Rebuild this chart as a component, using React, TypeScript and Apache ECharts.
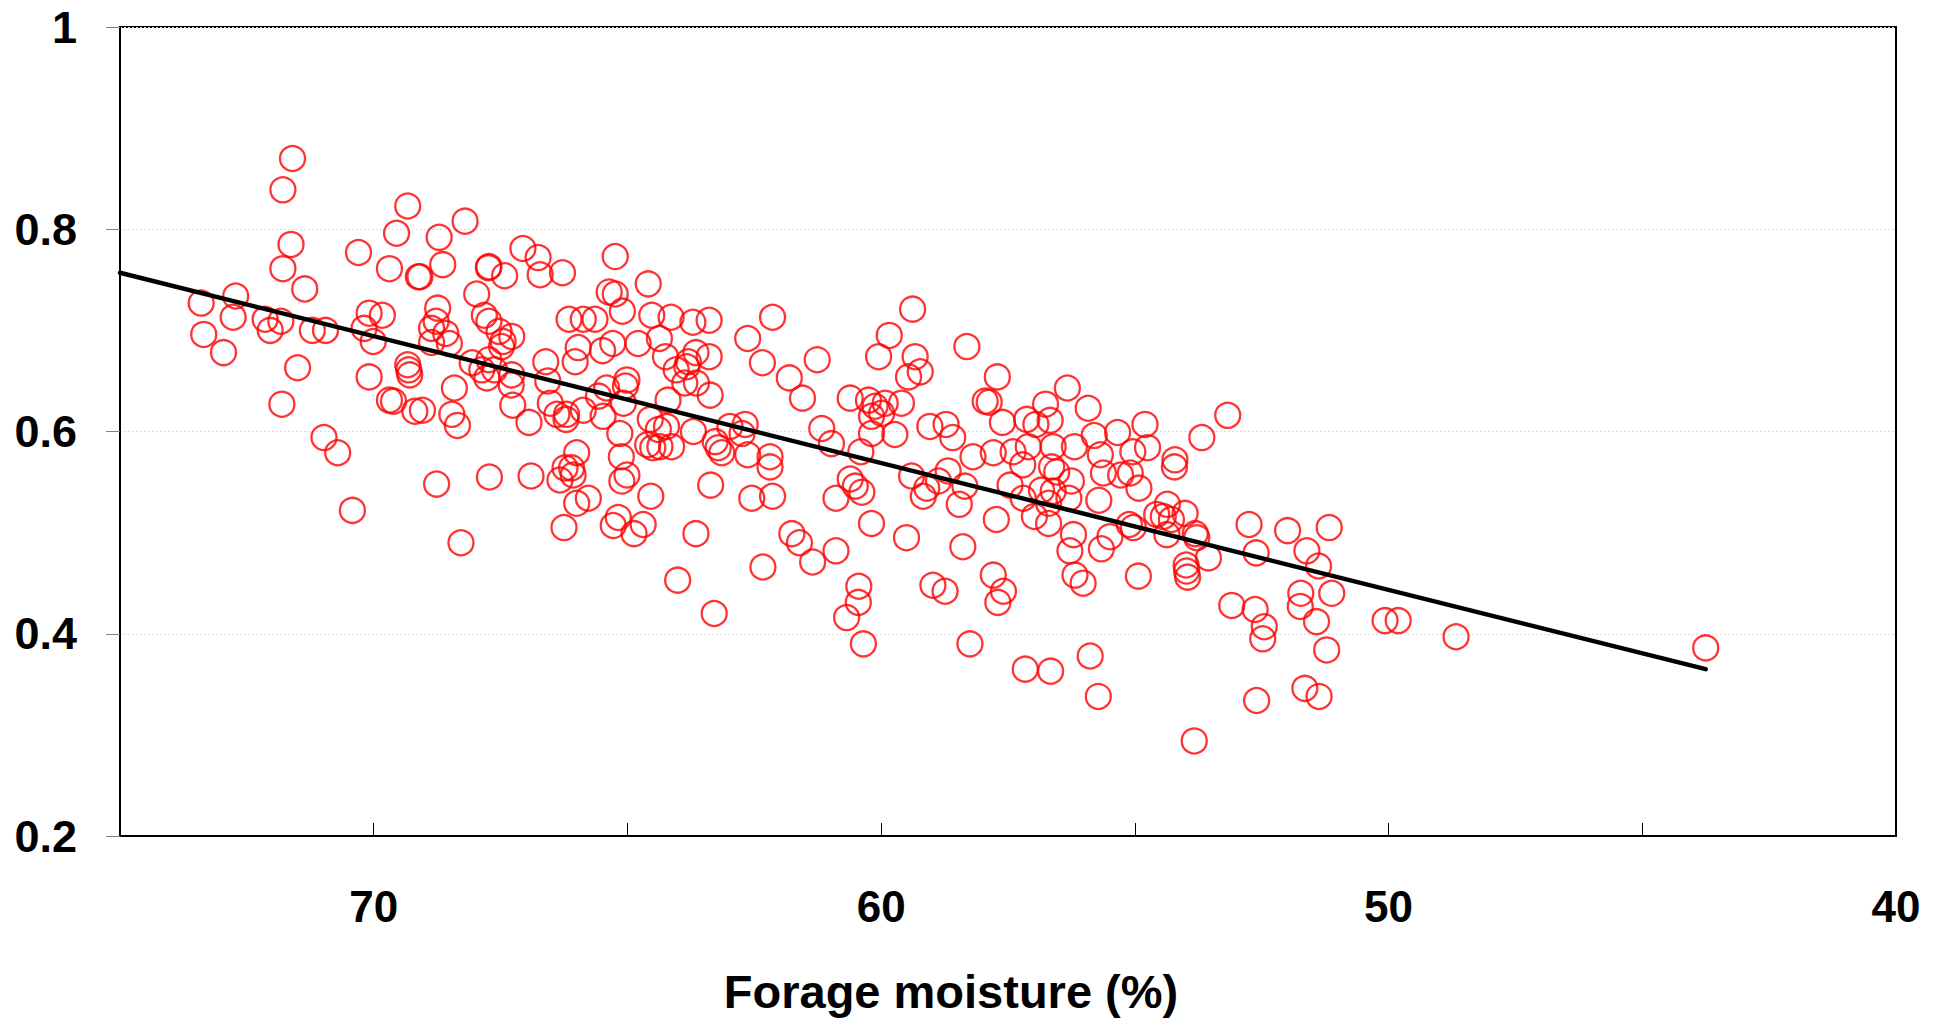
import React, { useEffect, useRef } from "react";
import * as echarts from "echarts";

// Forage moisture (%) of each sample
const moisture: number[] = [
  71.60, 71.79, 69.33, 68.20, 69.55, 68.71, 71.63, 67.06, 70.30, 66.76,
  71.79, 69.69, 69.09, 69.12, 68.64, 67.73, 67.74, 67.42, 66.72, 66.28,
  71.36, 67.97, 72.72, 73.40, 72.77, 72.14, 71.83, 72.04, 73.35, 72.96,
  71.21, 70.95, 70.09, 69.83, 70.19, 70.01, 68.74, 68.77, 68.86, 68.58,
  68.86, 68.51, 67.82, 67.73, 67.53, 67.28, 67.45, 67.48, 66.15, 65.87,
  65.97, 66.03, 66.61, 66.57, 69.33, 69.31, 69.29, 68.06, 67.73, 67.87,
  67.62, 67.77, 67.28, 67.29, 70.09, 71.50, 68.41, 71.81, 69.61, 69.69,
  69.19, 69.04, 68.46, 68.35, 67.26, 66.94, 66.52, 66.39, 66.20, 65.87,
  66.21, 70.98, 70.71, 66.00,
  70.42, 68.76, 67.72, 68.28, 66.90, 66.33, 66.23, 66.10, 66.07, 66.00, 66.25,
  65.24, 65.36, 65.24, 64.59, 65.10, 65.64, 64.52, 64.14, 63.71, 63.39,
  62.14, 62.63, 59.38, 59.84, 58.31, 60.05, 59.33, 59.23, 59.46, 61.26,
  62.34, 61.81, 61.55, 60.61, 64.37, 64.79, 65.29, 65.49, 64.25, 63.65,
  63.39, 63.80, 63.83, 64.04, 63.64, 63.87, 65.01, 65.04, 65.41, 65.57,
  65.48, 64.20, 63.37, 65.08, 64.55, 64.23, 65.15, 64.39, 63.70, 63.27,
  62.98, 62.68, 62.74, 61.17, 60.98, 60.40, 60.25, 60.12, 59.92, 59.60,
  60.19, 59.99, 60.19, 59.73, 59.04, 58.72, 58.59, 58.19, 64.60, 64.50,
  64.36, 64.13, 65.12, 63.21, 62.19,
  57.71, 57.95, 57.87, 57.61, 56.76, 56.33, 55.92, 57.13, 56.95, 56.67,
  55.80, 55.34, 54.80, 54.75, 55.04, 53.17, 53.68, 57.79, 57.40, 57.10,
  56.61, 56.19, 55.68, 54.21,
  65.77, 65.01, 65.11, 64.54, 65.18, 65.28, 64.69, 64.87, 63.14, 62.63,
  62.19, 63.36, 62.55, 62.14, 63.65, 64.01, 63.29, 62.33, 61.76, 61.61,
  61.35, 60.89, 60.89, 60.61, 60.51, 60.38, 60.19, 60.44, 60.45, 60.68,
  60.35, 59.50, 59.40, 59.17, 59.10, 58.87, 58.68, 58.35, 58.46, 58.39,
  58.98, 58.74, 58.25,
  57.21, 56.64, 56.54, 56.25, 55.62, 55.28, 55.09, 54.92, 54.22, 57.46,
  57.20, 56.84, 56.61, 56.30, 56.70, 56.98, 56.70, 57.73, 55.71, 56.21,
  56.28, 55.66, 55.49, 55.11, 55.03, 54.57, 54.36, 54.44, 54.28, 54.01,
  54.37, 53.81, 53.78, 53.55, 53.99, 53.98, 53.96, 54.93, 56.18, 56.02,
  57.79, 57.59, 57.70, 57.16, 56.66, 55.88, 55.72, 53.83, 52.75, 51.99,
  51.17, 52.61, 51.61, 51.38, 53.09, 52.63, 52.45, 52.48, 51.73, 51.74,
  51.42, 51.12, 51.22, 52.60, 51.65, 51.37,
  50.07, 49.81, 48.67, 43.75,
];

// Measured response of each sample (same order)
const response: number[] = [
  0.870, 0.839, 0.823, 0.808, 0.796, 0.792, 0.785, 0.781, 0.777, 0.772,
  0.761, 0.761, 0.753, 0.753, 0.765, 0.763, 0.762, 0.754, 0.755, 0.757,
  0.741, 0.736, 0.734, 0.727, 0.713, 0.711, 0.709, 0.700, 0.696, 0.678,
  0.700, 0.700, 0.717, 0.715, 0.702, 0.689, 0.722, 0.709, 0.702, 0.697,
  0.688, 0.687, 0.715, 0.709, 0.699, 0.694, 0.689, 0.684, 0.711, 0.711,
  0.683, 0.669, 0.669, 0.650, 0.666, 0.661, 0.656, 0.668, 0.671, 0.661,
  0.661, 0.653, 0.656, 0.646, 0.654, 0.663, 0.643, 0.627, 0.630, 0.631,
  0.620, 0.621, 0.617, 0.606, 0.626, 0.609, 0.628, 0.617, 0.617, 0.621,
  0.612, 0.594, 0.579, 0.579,
  0.522, 0.548, 0.555, 0.490, 0.556, 0.552, 0.564, 0.564, 0.557, 0.529, 0.505,
  0.773, 0.738, 0.736, 0.746, 0.719, 0.711, 0.715, 0.713, 0.708, 0.710,
  0.713, 0.692, 0.721, 0.695, 0.684, 0.674, 0.674, 0.659, 0.654, 0.671,
  0.668, 0.653, 0.633, 0.633, 0.692, 0.687, 0.687, 0.680, 0.674, 0.678,
  0.674, 0.669, 0.664, 0.661, 0.648, 0.648, 0.651, 0.645, 0.643, 0.635,
  0.615, 0.631, 0.636, 0.628, 0.612, 0.605, 0.598, 0.602, 0.600, 0.590,
  0.605, 0.607, 0.598, 0.603, 0.588, 0.580, 0.631, 0.625, 0.628, 0.628,
  0.615, 0.618, 0.598, 0.597, 0.605, 0.607, 0.594, 0.575, 0.587, 0.584,
  0.585, 0.585, 0.575, 0.584, 0.575,
  0.654, 0.630, 0.629, 0.609, 0.627, 0.643, 0.623, 0.612, 0.607, 0.611,
  0.596, 0.599, 0.607, 0.584, 0.580, 0.616, 0.594, 0.579, 0.580, 0.585,
  0.585, 0.585, 0.577, 0.572,
  0.534, 0.557, 0.551, 0.536, 0.515, 0.507, 0.508, 0.499, 0.579, 0.577,
  0.565, 0.547, 0.534, 0.536, 0.499, 0.453, 0.420, 0.466, 0.499, 0.490,
  0.471, 0.482, 0.534, 0.553, 0.546, 0.540, 0.509, 0.447, 0.431, 0.416,
  0.390, 0.495, 0.556, 0.536, 0.544, 0.551, 0.561, 0.546, 0.528, 0.486,
  0.448, 0.442, 0.390,
  0.567, 0.565, 0.560, 0.551, 0.559, 0.557, 0.559, 0.544, 0.565, 0.547,
  0.534, 0.542, 0.541, 0.534, 0.529, 0.516, 0.509, 0.513, 0.532, 0.498,
  0.482, 0.484, 0.496, 0.508, 0.505, 0.518, 0.528, 0.516, 0.513, 0.519,
  0.498, 0.499, 0.495, 0.475, 0.468, 0.462, 0.456, 0.457, 0.458, 0.450,
  0.458, 0.442, 0.431, 0.365, 0.363, 0.378, 0.338, 0.294, 0.508, 0.502,
  0.505, 0.480, 0.482, 0.467, 0.428, 0.424, 0.407, 0.395, 0.440, 0.427,
  0.412, 0.440, 0.384, 0.334, 0.346, 0.338,
  0.413, 0.413, 0.397, 0.386,
];

// Fitted regression line end points
const trendMoisture: number[] = [75, 43.75];
const trendResponse: number[] = [0.757, 0.365];

// Axis settings
const xMin = 40;
const xMax = 75;
const xStep = 5;
const xLabelStep = 10;
const yMin = 0.2;
const yMax = 1;
const yStep = 0.2;
const xTitle = "Forage moisture (%)";

const FONT = "'Liberation Sans', Arial, Helvetica, sans-serif";

export default function App() {
  const ref = useRef<HTMLDivElement>(null);

  useEffect(() => {
    if (!ref.current) return;
    const chart = echarts.init(ref.current, undefined, { renderer: "svg" });

    const points = moisture.map((m, i) => [m, response[i]]);
    const trend = trendMoisture.map((m, i) => [m, trendResponse[i]]);

    chart.setOption({
      animation: false,
      backgroundColor: "#ffffff",
      grid: {
        left: 120,
        right: 41,
        top: 27,
        bottom: 185,
        show: true,
        borderColor: "#000000",
        borderWidth: 2,
        backgroundColor: "transparent",
      },
      xAxis: {
        type: "value",
        inverse: true,
        min: xMin,
        max: xMax,
        interval: xStep,
        name: xTitle,
        nameLocation: "middle",
        nameGap: 132,
        nameTextStyle: {
          fontFamily: FONT,
          fontWeight: "bold",
          fontSize: 47,
          color: "#000000",
          padding: [0, 114, 0, 0],
        },
        axisLine: { show: true, lineStyle: { color: "#000000", width: 2 } },
        axisTick: {
          show: true,
          inside: true,
          length: 13,
          lineStyle: { color: "#000000", width: 1 },
        },
        axisLabel: {
          margin: 48,
          fontFamily: FONT,
          fontWeight: "bold",
          fontSize: 44,
          color: "#000000",
          formatter: (v: number) =>
            Math.abs(v % xLabelStep) < 1e-6 ? String(v) : "",
        },
        splitLine: { show: false },
      },
      yAxis: {
        type: "value",
        min: yMin,
        max: yMax,
        interval: yStep,
        axisLine: { show: true, lineStyle: { color: "#000000", width: 2 } },
        axisTick: {
          show: true,
          inside: false,
          length: 14,
          lineStyle: { color: "#808080", width: 1 },
        },
        axisLabel: {
          margin: 43,
          fontFamily: FONT,
          fontWeight: "bold",
          fontSize: 45,
          color: "#000000",
          formatter: (v: number) => String(Math.round(v * 10) / 10),
        },
        splitLine: {
          show: true,
          lineStyle: { color: "#dcdcdc", width: 1, type: [2, 2] },
        },
      },
      series: [
        {
          type: "scatter",
          data: points,
          symbol: "circle",
          symbolSize: 25,
          itemStyle: {
            color: "rgba(255,255,255,0)",
            borderColor: "#ff0000",
            borderWidth: 2.3,
          },
          z: 2,
        },
        {
          type: "line",
          data: trend,
          symbol: "none",
          lineStyle: { color: "#000000", width: 4.5, cap: "round" },
          z: 3,
        },
      ],
    });

    return () => {
      chart.dispose();
    };
  }, []);

  return (
    <div
      ref={ref}
      style={{
        position: "fixed",
        left: 0,
        top: 0,
        width: 1937,
        height: 1021,
        background: "#ffffff",
      }}
    />
  );
}
